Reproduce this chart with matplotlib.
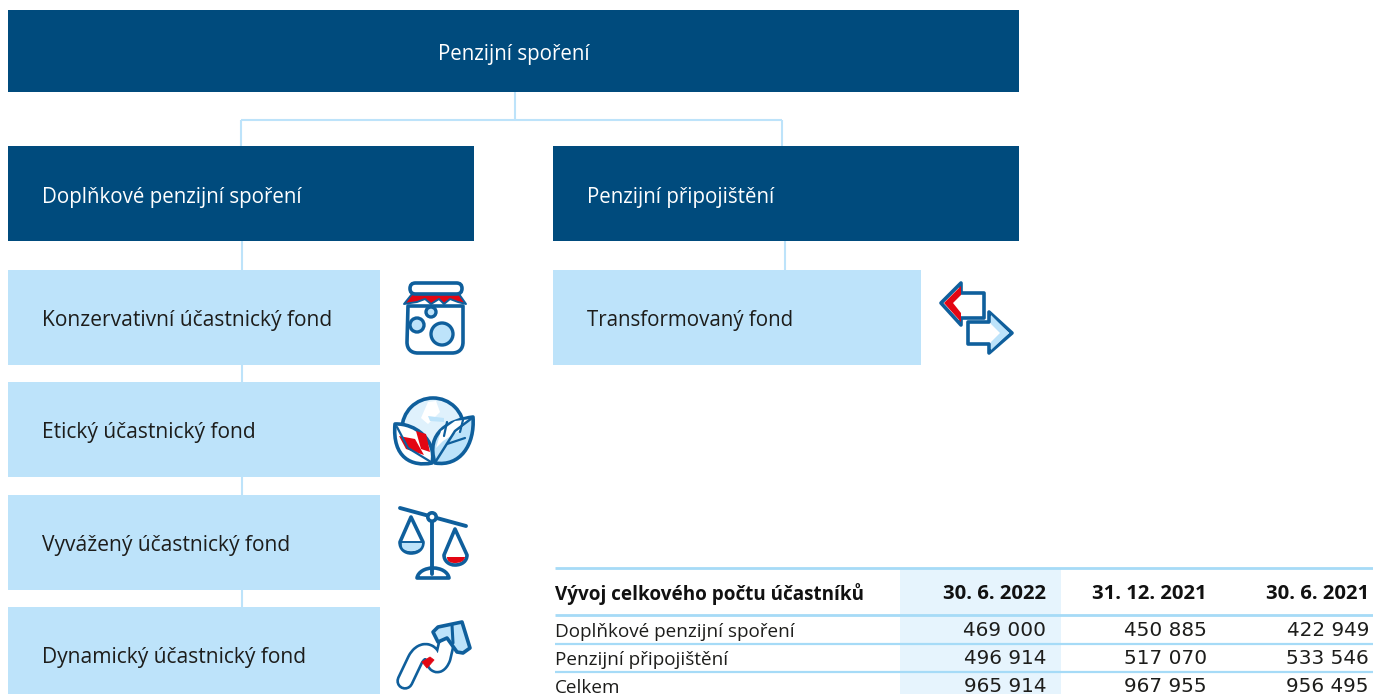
import matplotlib
matplotlib.use('Agg')
import matplotlib.pyplot as plt
from matplotlib.patches import Rectangle, Circle, Polygon, FancyBboxPatch, PathPatch
from matplotlib.path import Path

DARK = '#004b7d'
LIGHT = '#bde3fa'
PALE = '#e6f4fd'
LINE = '#0f5f9c'
RED = '#e30613'
TXT = '#1d1d1b'

plt.rcParams['font.family'] = ['Open Sans', 'DejaVu Sans']

# hierarchy
top_label = 'Penzijní spoření'
branch_labels = ['Doplňkové penzijní spoření', 'Penzijní připojištění']
fund_labels = ['Konzervativní účastnický fond', 'Etický účastnický fond',
               'Vyvážený účastnický fond', 'Dynamický účastnický fond']
transform_label = 'Transformovaný fond'

# table
table_title = 'Vývoj celkového počtu účastníků'
table_dates = ['30. 6. 2022', '31. 12. 2021', '30. 6. 2021']
table_rows = ['Doplňkové penzijní spoření', 'Penzijní připojištění', 'Celkem']
table_values = [['469 000', '450 885', '422 949'],
                ['496 914', '517 070', '533 546'],
                ['965 914', '967 955', '956 495']]

fig = plt.figure(figsize=(13.73, 6.94), dpi=100)
ax = fig.add_axes([0, 0, 1, 1])
ax.set_xlim(0, 1373)
ax.set_ylim(694, 0)
ax.axis('off')

M, L, C, Z = Path.MOVETO, Path.LINETO, Path.CURVE4, Path.CLOSEPOLY


def box(x0, y0, x1, y1, color):
    ax.add_patch(Rectangle((x0, y0), x1 - x0, y1 - y0, fc=color, ec='none', zorder=2))


def conn(xs, ys):
    ax.plot(xs, ys, color=LIGHT, lw=1.5, zorder=1, solid_capstyle='butt')


def poly(pts, fc='none', lw=2.4, ec=LINE, z=5):
    ax.add_patch(Polygon(pts, closed=True, fc=fc, ec=ec, lw=lw, zorder=z, joinstyle='round'))


def curve(verts, codes, fc='none', lw=2.4, ec=LINE, z=5):
    ax.add_patch(PathPatch(Path(verts, codes), fc=fc, ec=ec, lw=lw, zorder=z,
                           joinstyle='round', capstyle='round'))


def line(xs, ys, lw=2.4, color=LINE, z=6):
    ax.plot(xs, ys, color=color, lw=lw, zorder=z, solid_capstyle='round')


# connectors
conn([515, 515], [92, 120])
conn([241, 782], [120, 120])
conn([241, 241], [120, 146])
conn([782, 782], [120, 146])
conn([242, 242], [241, 607])
conn([785, 785], [241, 270])

# boxes
box(8, 10, 1019, 92, DARK)
ax.text(514, 54, top_label, color='white', fontsize=14.8, ha='center', va='center', zorder=3)
box(8, 146, 474, 241, DARK)
box(553, 146, 1019, 241, DARK)
for x, lab in zip([42, 587], branch_labels):
    ax.text(x, 197, lab, color='white', fontsize=14.8, ha='left', va='center', zorder=3)

fund_tops = [270, 382, 495, 607]
for y, lab in zip(fund_tops, fund_labels):
    box(8, y, 380, y + 95, LIGHT)
    ax.text(42, y + 50, lab, color=TXT, fontsize=15.1, ha='left', va='center', zorder=3)
box(553, 270, 921, 365, LIGHT)
ax.text(587, 320, transform_label, color=TXT, fontsize=14.8, ha='left', va='center', zorder=3)

# jar icon
ax.add_patch(FancyBboxPatch((410, 283), 52, 11, boxstyle='round,pad=0,rounding_size=5.5',
                            fc='white', ec=LINE, lw=2.6, zorder=6))
curve([(408, 306), (407, 342), (407, 349), (411, 353), (418, 353), (452, 353), (459, 353),
       (463, 349), (463, 342), (463, 306), (408, 306)],
      [M, L, C, C, C, L, C, C, C, L, Z], fc='white', lw=2.6, z=4)
poly([(404, 304), (412, 294), (459, 294), (466, 304), (458, 302), (450, 299), (444, 304),
      (439, 299), (431, 304), (425, 299), (417, 302)], fc=RED, lw=1.4)
ax.add_patch(Circle((431, 312), 5, fc=LIGHT, ec=LINE, lw=2.4, zorder=6))
ax.add_patch(Circle((417, 325), 7, fc=LIGHT, ec=LINE, lw=2.4, zorder=6))
ax.add_patch(Circle((442, 334), 11, fc=LIGHT, ec=LINE, lw=2.4, zorder=6))

# globe and leaves icon
ax.add_patch(Circle((433, 429), 31, fc='#dff1fc', ec=LINE, lw=2.6, zorder=4))
poly([(428, 402), (436, 401), (440, 412), (428, 424), (421, 418)], fc='white', lw=0, z=4.5)
poly([(428, 416), (444, 418), (444, 422), (430, 421)], fc=LIGHT, lw=0, z=4.6)
curve([(395, 424), (415, 423), (437, 440), (432, 463), (412, 467), (392, 458), (395, 424), (395, 424)],
      [M, C, C, C, C, C, C, Z], fc='white', lw=2.6, z=5)
poly([(399, 436), (415, 439), (424, 455), (406, 449)], fc=RED, lw=0, z=6)
poly([(416, 431), (426, 434), (430, 452), (421, 449)], fc=RED, lw=0, z=6)
line([397, 408, 431], [427, 448, 462], lw=1.6)
curve([(473, 417), (450, 420), (425, 432), (435, 463), (460, 467), (475, 445), (473, 417), (473, 417)],
      [M, C, C, C, C, C, C, Z], fc=LIGHT, lw=2.6, z=5)
poly([(471, 419), (455, 421), (441, 431), (436, 448), (443, 441), (459, 431)], fc='white', lw=0, z=5.5)
line([472, 455, 436], [418, 431, 461], lw=1.8)
line([463, 460], [420, 432], lw=1.6)
line([465, 447], [438, 444], lw=1.6)
line([447, 444], [422, 436], lw=1.6)

# scales icon
line([400, 466], [508, 526], lw=2.8)
line([432, 432], [520, 574], lw=2.8)
ax.add_patch(Circle((432, 517), 4.2, fc='white', ec=LINE, lw=2.6, zorder=7))
curve([(417, 578), (418, 572), (425, 568), (433, 568), (441, 568), (448, 572), (449, 578), (417, 578)],
      [M, C, C, C, C, C, C, Z], fc='white', lw=2.6)
# pans
curve([(411, 517), (400, 542), (400, 542), (400, 542), (400, 549), (405, 553), (411, 553),
       (418, 553), (423, 549), (423, 542), (423, 542), (411, 517), (411, 517), (411, 517)],
      [M, C, C, C, C, C, C, C, C, C, C, C, C, Z], fc='white', lw=2.6)
curve([(402, 543), (422, 543), (422, 549), (417, 551), (411, 551), (405, 551), (401, 549), (402, 543)],
      [M, L, C, C, C, C, C, Z], fc=LIGHT, lw=0, z=5.5)
line([401, 422], [542, 542], lw=1.4)
curve([(455, 529), (444, 555), (444, 555), (444, 555), (444, 561), (449, 565), (455, 565),
       (462, 565), (467, 561), (467, 555), (467, 555), (455, 529), (455, 529), (455, 529)],
      [M, C, C, C, C, C, C, C, C, C, C, C, C, Z], fc='white', lw=2.6)
curve([(447, 557), (465, 557), (464, 562), (459, 563), (455, 563), (451, 563), (447, 562), (447, 557)],
      [M, L, C, C, C, C, C, Z], fc=RED, lw=0, z=5.5)

# rising arrow icon
tube_v = [(405, 681), (415, 660), (421, 648), (431, 650), (433, 658), (435, 668), (440, 666), (443, 658), (446, 645)]
tube_c = [M, L, C, C, C, C, C, C, L]
curve(tube_v, tube_c, lw=12.6, z=4)
curve(tube_v, tube_c, lw=8.8, ec='white', z=4.5)
poly([(422, 662), (430, 657), (434, 660), (427, 668)], fc=RED, lw=0.6, ec=RED, z=7)
poly([(433, 632), (438, 627), (462, 622), (470, 648), (463, 653), (457, 652), (447, 638), (438, 642)],
     fc=LIGHT, lw=2.6, z=6)
line([452, 453], [625, 643], lw=2.2)

# transfer arrows icon
poly([(984, 293), (961, 293), (961, 283), (941, 303), (961, 325), (961, 318), (984, 318)], fc='white', lw=2.6, z=5)
poly([(961, 286), (944, 303), (961, 322), (961, 313), (953, 303), (961, 295)], fc=RED, lw=0, z=6)
poly([(968, 322), (989, 322), (989, 312), (1012, 333), (989, 353), (989, 344), (968, 344)], fc='white', lw=2.6, z=5)
poly([(991, 315), (1009, 333), (991, 350), (991, 342), (1000, 333), (991, 324)], fc=LIGHT, lw=0, z=6)

# table
col_rights = [1046, 1207, 1369]
row_ys = [631, 659, 687]
box(900, 569, 1061, 694, PALE)
for y, lw in [(568, 2), (615, 2), (644, 1.6), (672, 1.6)]:
    ax.plot([555, 1373], [y, y], color='#a6dbf7', lw=lw, zorder=3, solid_capstyle='butt')
ax.text(555, 594, table_title, color='#111111', fontsize=13.6, fontweight='bold',
        ha='left', va='center', zorder=4)
for x, lab in zip(col_rights, table_dates):
    ax.text(x, 594, lab, color='#111111', fontsize=14.6, fontweight='bold',
            ha='right', va='center', zorder=4)
for y, lab, vals in zip(row_ys, table_rows, table_values):
    ax.text(555, y + 1, lab, color=TXT, fontsize=13.6, ha='left', va='center', zorder=4)
    for x, v in zip(col_rights, vals):
        ax.text(x, y, v, color=TXT, fontsize=14.4, ha='right', va='center', zorder=4,
                family='DejaVu Sans')

fig.savefig('out.png', dpi=100, facecolor='white')
